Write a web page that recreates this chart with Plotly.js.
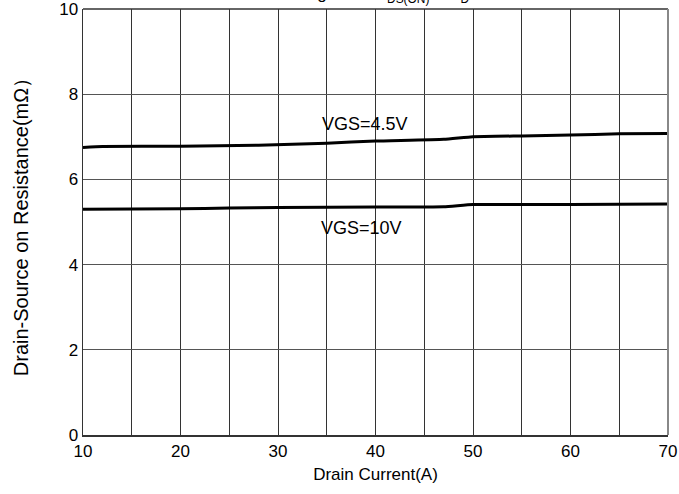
<!DOCTYPE html>
<html><head><meta charset="utf-8">
<script src="https://cdn.plot.ly/plotly-3.0.1.min.js"></script>
<style>html,body{margin:0;padding:0;background:#fff}#c{width:679px;height:494px}</style>
</head><body><div id="c"></div>
<script>
const current45 = [10, 12, 20, 28, 35, 40, 47, 50, 55, 60, 65, 70];
const rds45 = [6.75, 6.77, 6.78, 6.80, 6.85, 6.90, 6.94, 7.00, 7.02, 7.04, 7.07, 7.08];
const current10 = [10, 20, 25, 30, 40, 47, 50, 60, 70];
const rds10 = [5.30, 5.31, 5.33, 5.34, 5.35, 5.36, 5.41, 5.41, 5.42];
const labels = ["VGS=4.5V", "VGS=10V"];
const labelX = [38.9, 38.6];
const labelY = [7.3, 4.86];
const xTicks = [10, 20, 30, 40, 50, 60, 70];
const yTicks = [0, 2, 4, 6, 8, 10];
const chartTitle = "Figure 3: R<sub>DS(ON)</sub> vs I<sub>D</sub>";

const fam = "Arial, Liberation Sans, sans-serif";
const font = {family: fam, size: 17, color: "#000"};
const traces = [
  {x: current45, y: rds45, mode: "lines", line: {color: "#000", width: 3, shape: "spline", smoothing: 0.4}, hoverinfo: "skip"},
  {x: current10, y: rds10, mode: "lines", line: {color: "#000", width: 3, shape: "spline", smoothing: 0.4}, hoverinfo: "skip"}
];
const notes = labels.map((t, i) => ({x: labelX[i], y: labelY[i], text: t, showarrow: false, font: {family: fam, size: 18, color: "#000"}}));
notes.push({xref: "paper", yref: "paper", x: 0.518, y: 1, xanchor: "center", yanchor: "bottom", yshift: 1,
            text: chartTitle, showarrow: false, font: {family: fam, size: 17, color: "#000"}});
const layout = {
  width: 679, height: 494,
  margin: {l: 83, r: 11, t: 9, b: 59},
  showlegend: false,
  paper_bgcolor: "#fff", plot_bgcolor: "#fff",
  font: font,
  xaxis: {range: [10, 70], tickvals: xTicks, ticktext: xTicks.map(String), ticks: "", showgrid: false,
          showline: true, linecolor: "#333", linewidth: 1.5, mirror: false, zeroline: false,
          title: {text: "Drain Current(A)", font: font, standoff: 8}, tickfont: font,
          minor: {dtick: 5, showgrid: true, gridcolor: "#333", gridwidth: 1}},
  yaxis: {range: [0, 10], tickvals: yTicks, ticktext: yTicks.map(String), ticks: "", showgrid: true,
          ticklabeloverflow: "allow",
          gridcolor: "#555", gridwidth: 1, showline: true, linecolor: "#333", linewidth: 1.5, zeroline: false,
          title: {text: "Drain-Source on Resistance(mΩ）", font: {family: fam, size: 20, color: "#000"}, standoff: 25}, tickfont: font},
  shapes: [
    {type: "line", xref: "paper", yref: "paper", x0: 0, x1: 1, y0: 1, y1: 1, line: {color: "#333", width: 1.5}},
    {type: "line", xref: "paper", yref: "paper", x0: 1, x1: 1, y0: 0, y1: 1, line: {color: "#888", width: 2}}
  ],
  annotations: notes
};
Plotly.newPlot("c", traces, layout, {staticPlot: true, displayModeBar: false});
</script></body></html>
